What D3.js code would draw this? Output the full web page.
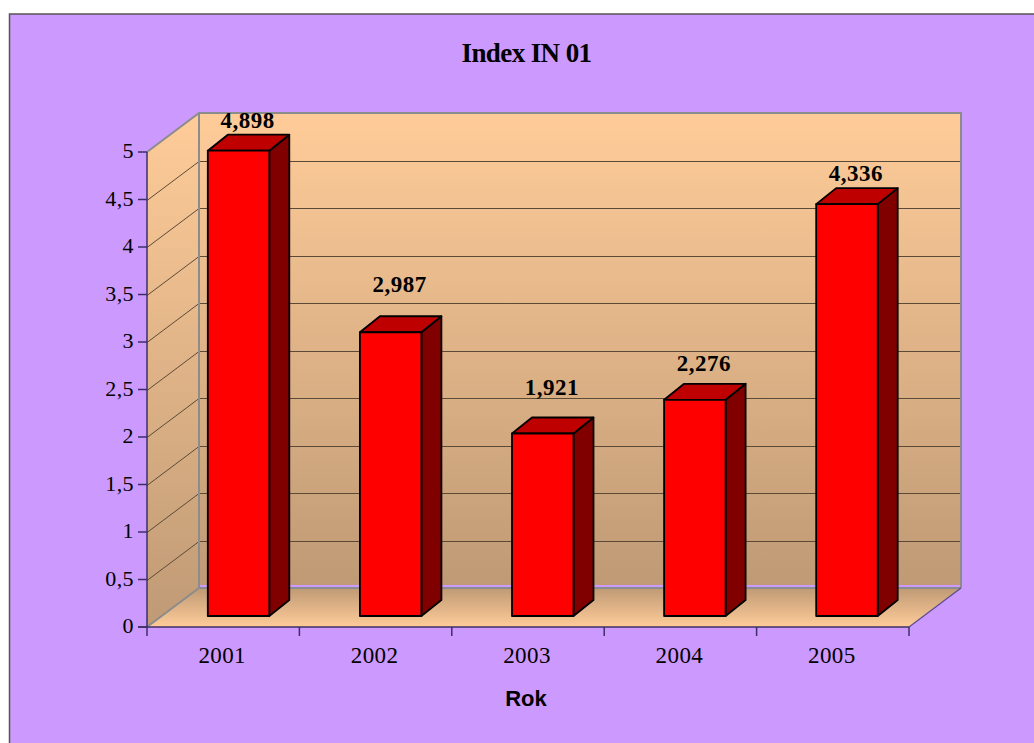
<!DOCTYPE html>
<html><head><meta charset="utf-8">
<script src="https://cdn.jsdelivr.net/npm/d3@7"></script>
<style>html,body{margin:0;padding:0;background:#fff}svg{display:block}</style>
</head><body><div id="c"></div>
<script>
const years = ["2001","2002","2003","2004","2005"];
const values = [4.898,2.987,1.921,2.276,4.336];
const valueLabels = ["4,898","2,987","1,921","2,276","4,336"];
const yTicks = [0,0.5,1,1.5,2,2.5,3,3.5,4,4.5,5];
const yTickLabels = ["0","0,5","1","1,5","2","2,5","3","3,5","4","4,5","5"];
const labelLift = [31,48,47,37,31];

const W=1034,H=743;
const svg=d3.select("#c").append("svg").attr("width",W).attr("height",H);
const defs=svg.append("defs");
function grad(id,c1,c2){const g=defs.append("linearGradient").attr("id",id).attr("x1",0).attr("y1",0).attr("x2",0).attr("y2",1);
 g.append("stop").attr("offset",0).attr("stop-color",c1);g.append("stop").attr("offset",1).attr("stop-color",c2);}
grad("wall","#FFCC99","#BF9A75");grad("floor","#BF9A75","#FFCC99");

svg.append("rect").attr("x",9.5).attr("y",14).attr("width",W).attr("height",H).attr("fill","#CC99FF").attr("stroke","#555").attr("stroke-width",1.5);

const x=d3.scaleBand().domain(years).range([147,909]);
const xBar=d3.scaleBand().domain(years).range([147,907.5]);
const y=d3.scaleLinear().domain([0,5]).range([627,152]);
const depth={dx:52,dy:-39}, barOff={dx:15.5,dy:-11}, barDepth={dx:20,dy:-16};
const pts=a=>a.map(p=>p.join(",")).join(" ");
const x0=x.range()[0],x1=x.range()[1],y0=y(0),y5=y(5);

// side wall, back wall, floor
svg.append("polygon").attr("points",pts([[x0,y0],[x0+depth.dx,y0+depth.dy],[x0+depth.dx,y5+depth.dy],[x0,y5]])).attr("fill","url(#wall)");
svg.append("rect").attr("x",x0+depth.dx).attr("y",y5+depth.dy).attr("width",x1-x0).attr("height",y0-y5-3).attr("fill","url(#wall)");
svg.append("polygon").attr("points",pts([[x0,y0],[x1,y0],[x1+depth.dx,y0+depth.dy],[x0+depth.dx,y0+depth.dy]])).attr("fill","url(#floor)");

// gridlines
const grid=svg.append("g").attr("fill","none").attr("stroke","#5c4a38").attr("stroke-width",1);
yTicks.slice(1,-1).forEach(t=>{
 const py=Math.round(y(t))+.5;
 grid.append("polyline").attr("points",pts([[x0,py],[x0+depth.dx,py+depth.dy],[x1+depth.dx,py+depth.dy]]));
});
// wall outlines
svg.append("polyline").attr("fill","none").attr("stroke","#8c8c8c").attr("stroke-width",2)
 .attr("points",pts([[x0,y5],[x0+depth.dx,y5+depth.dy],[x1+depth.dx,y5+depth.dy],[x1+depth.dx,y0+depth.dy]]));
svg.append("polyline").attr("fill","none").attr("stroke","#8c8c8c").attr("stroke-width",2)
 .attr("points",pts([[x0,y0],[x0+depth.dx,y0+depth.dy],[x1+depth.dx,y0+depth.dy]]));
svg.append("line").attr("stroke","#8c8c8c").attr("stroke-width",2).attr("x1",x0+depth.dx).attr("x2",x0+depth.dx).attr("y1",y5+depth.dy).attr("y2",y0+depth.dy);
svg.append("line").attr("stroke","#5a4a90").attr("stroke-width",1.2).attr("x1",x1).attr("y1",y0).attr("x2",x1+depth.dx).attr("y2",y0+depth.dy);

// axes
const axc="#3d2f66";
const ax=svg.append("g").attr("stroke",axc).attr("stroke-width",1.5).attr("fill","none");
ax.append("line").attr("x1",x0).attr("x2",x0).attr("y1",y5).attr("y2",y0+9);
ax.append("line").attr("x1",x0-9).attr("x2",x1).attr("y1",y0).attr("y2",y0);
yTicks.forEach(t=>ax.append("line").attr("x1",x0-9).attr("x2",x0).attr("y1",y(t)).attr("y2",y(t)));
years.forEach(d=>ax.append("line").attr("x1",x(d)+x.bandwidth()).attr("x2",x(d)+x.bandwidth()).attr("y1",y0).attr("y2",y0+9));

const serif="'Liberation Serif','Times New Roman',serif";
svg.append("g").selectAll("text").data(yTicks).join("text")
 .attr("x",x0-13).attr("y",d=>y(d)+6).attr("text-anchor","end")
 .attr("font-family",serif).attr("font-size",22).attr("letter-spacing",.4).attr("fill","#000")
 .text((d,i)=>yTickLabels[i]);
svg.append("g").selectAll("text").data(years).join("text")
 .attr("x",d=>x(d)+x.bandwidth()/2-1).attr("y",663).attr("text-anchor","middle")
 .attr("font-family",serif).attr("font-size",23).attr("letter-spacing",.4).attr("fill","#000").text(d=>d);

// bars
const bw=61.5;
const bars=svg.append("g").selectAll("g").data(values).join("g").attr("stroke","#000").attr("stroke-width",1.8).attr("stroke-linejoin","round");
const bl=(d,i)=>xBar(years[i])+xBar.bandwidth()/2+barOff.dx-bw/2;
const yb=d=>y(d)+barOff.dy, base=y(0)+barOff.dy;
bars.append("polygon").attr("fill","#800000").attr("points",(d,i)=>{const l=bl(d,i)+bw;
 return pts([[l,yb(d)],[l+barDepth.dx,yb(d)+barDepth.dy],[l+barDepth.dx,base+barDepth.dy],[l,base]]);});
bars.append("polygon").attr("fill","#BF0000").attr("points",(d,i)=>{const l=bl(d,i);
 return pts([[l,yb(d)],[l+bw,yb(d)],[l+bw+barDepth.dx,yb(d)+barDepth.dy],[l+barDepth.dx,yb(d)+barDepth.dy]]);});
bars.append("rect").attr("fill","#FF0000").attr("x",bl).attr("y",yb).attr("width",bw).attr("height",d=>base-yb(d));

// value labels
svg.append("g").selectAll("text").data(values).join("text")
 .attr("x",(d,i)=>bl(d,i)+bw/2+9).attr("y",(d,i)=>yb(d)-labelLift[i]+8).attr("text-anchor","middle")
 .attr("font-family",serif).attr("font-size",23).attr("font-weight","bold").attr("letter-spacing",.5).attr("fill","#000")
 .text((d,i)=>valueLabels[i]);

svg.append("text").attr("x",526.5).attr("y",62).attr("text-anchor","middle").attr("font-family",serif)
 .attr("font-size",27).attr("font-weight","bold").attr("letter-spacing",-.6).attr("fill","#000").text("Index IN 01");
svg.append("text").attr("x",526).attr("y",706).attr("text-anchor","middle").attr("font-family","'Liberation Sans',Arial,sans-serif")
 .attr("font-size",22).attr("font-weight","bold").attr("fill","#000").text("Rok");
</script></body></html>
